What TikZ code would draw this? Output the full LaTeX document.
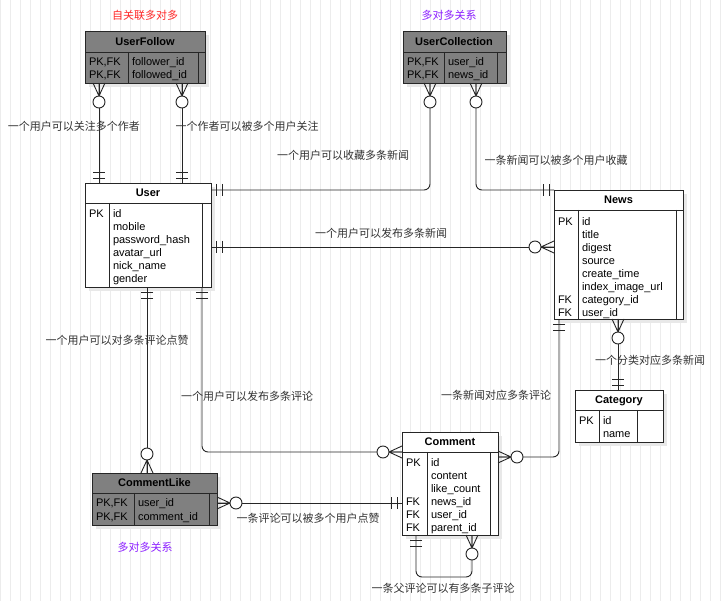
\documentclass[tikz,border=0pt]{standalone}
\usepackage{fontspec}
\setmainfont{Liberation Sans}
\newfontfamily\cjk{Noto Sans CJK SC}
\definecolor{tgray}{RGB}{128,128,128}
\definecolor{lred}{RGB}{255,40,40}
\definecolor{lpurple}{RGB}{140,30,255}
\definecolor{gridc}{RGB}{236,236,236}
\definecolor{shadowc}{RGB}{232,232,232}
\begin{document}
\begin{tikzpicture}[x=1pt,y=-1pt,
  every node/.style={inner sep=0pt, outer sep=0pt, font=\fontsize{11}{13}\selectfont},
  cline/.style={draw=black!85, line width=0.9pt},
  conn/.style={cline, rounded corners=6pt},
  tbox/.style={cline, anchor=north west, inner sep=0pt},
  ttl/.style={anchor=base, font=\fontsize{11}{13}\selectfont\bfseries},
  fld/.style={anchor=base west},
  lbl/.style={font=\cjk\fontsize{11}{13}\selectfont, text=black!80},
  manyopt/.pic={\draw[cline] (0,0) -- (13,0) (13,0) -- (0,-6) (13,0) -- (0,6);
                \draw[cline, fill=white] (19,0) circle (6pt);},
  onebar/.pic={\draw[cline] (5,-6) -- (5,6) (11,-6) -- (11,6);}
]
\useasboundingbox (0,0) rectangle (726,601);
\fill[white] (0,0) rectangle (726,601);
\draw[gridc, line width=0.5pt, step=10] (0,0) grid (726,601);

% shadows
\fill[shadowc] (89,35) rectangle (209,87);
\fill[shadowc] (407,35) rectangle (510,87);
\fill[shadowc] (89,187) rectangle (215,291);
\fill[shadowc] (558,194) rectangle (687,323);
\fill[shadowc] (579,394) rectangle (667,446);
\fill[shadowc] (406,436) rectangle (502,539);
\fill[shadowc] (96,477) rectangle (221,529);

% connector end points
\coordinate (uf1) at (99,83);
\coordinate (uf2) at (182,83);
\coordinate (u1) at (99,183);
\coordinate (u2) at (182,183);
\coordinate (u3) at (211,190);
\coordinate (u4) at (211,247);
\coordinate (u5) at (147,287);
\coordinate (u6) at (202,287);
\coordinate (uc1) at (430,83);
\coordinate (uc2) at (476,83);
\coordinate (n1) at (554,190);
\coordinate (n2) at (554,247);
\coordinate (n3) at (559,319);
\coordinate (n4) at (618,319);
\coordinate (c1) at (618,390);
\coordinate (cm1) at (402,452);
\coordinate (cm2) at (402,503);
\coordinate (cm3) at (498,457);
\coordinate (cm4) at (416,535);
\coordinate (cm5) at (472,535);
\coordinate (cl1) at (147,473);
\coordinate (cl2) at (217,503);

% connectors
\draw[conn] (uf1) -- (u1);
\draw[conn] (uf2) -- (u2);
\draw[conn] (u3) -| (uc1);
\draw[conn] (uc2) |- (n1);
\draw[conn] (u4) -- (n2);
\draw[conn] (u5) -- (cl1);
\draw[conn] (u6) |- (cm1);
\draw[conn] (cl2) -- (cm2);
\draw[conn] (n3) |- (cm3);
\draw[conn] (n4) -- (c1);
\draw[conn] (cm4) -- ++(0,42) -| (cm5);

% UserFollow
\node[tbox, fill=tgray, minimum width=120pt, minimum height=52pt] (uf) at (85,31) {};
\draw[cline] (85,52) -- (205,52) (128,52) -- (128,83) (198,52) -- (198,83);
\node[ttl] (uft) at (145,46) {UserFollow};
\node[fld] (ufk1) at (89,66) {PK,FK};
\node[fld] (ufk2) at (89,79) {PK,FK};
\node[fld] (uff1) at (132,66) {follower\_id};
\node[fld] (uff2) at (132,79) {followed\_id};

% UserCollection
\node[tbox, fill=tgray, minimum width=103pt, minimum height=52pt] (uc) at (403,31) {};
\draw[cline] (403,52) -- (506,52) (444,52) -- (444,83) (497,52) -- (497,83);
\node[ttl] (uct) at (454,46) {UserCollection};
\node[fld] (uck1) at (407,66) {PK,FK};
\node[fld] (uck2) at (407,79) {PK,FK};
\node[fld] (ucf1) at (448,66) {user\_id};
\node[fld] (ucf2) at (448,79) {news\_id};

% User
\node[tbox, fill=white, minimum width=126pt, minimum height=104pt] (user) at (85,183) {};
\draw[cline] (85,203) -- (211,203) (109,203) -- (109,287) (202,203) -- (202,287);
\node[ttl] (usert) at (148,197) {User};
\node[fld] (userk) at (89,218) {PK};
\foreach \t [count=\i from 0] in {id,mobile,password\_hash,avatar\_url,nick\_name,gender}
  \node[fld] (userf\i) at (113,218+13*\i) {\t};

% News
\node[tbox, fill=white, minimum width=129pt, minimum height=129pt] (news) at (554,190) {};
\draw[cline] (554,210) -- (683,210) (578,210) -- (578,319) (676,210) -- (676,319);
\node[ttl] (newst) at (618.5,204) {News};
\node[fld] (newsk1) at (558,226) {PK};
\node[fld] (newsk2) at (558,226+12.9*6) {FK};
\node[fld] (newsk3) at (558,226+12.9*7) {FK};
\foreach \t [count=\i from 0] in {id,title,digest,source,create\_time,index\_image\_url,category\_id,user\_id}
  \node[fld] (newsf\i) at (582,226+12.9*\i) {\t};

% Category
\node[tbox, fill=white, minimum width=88pt, minimum height=52pt] (cat) at (575,390) {};
\draw[cline] (575,410) -- (663,410) (599,410) -- (599,442) (637,410) -- (637,442);
\node[ttl] (catt) at (619,404) {Category};
\node[fld] (catk) at (579,425) {PK};
\node[fld] (catf1) at (603,425) {id};
\node[fld] (catf2) at (603,438) {name};

% Comment
\node[tbox, fill=white, minimum width=96pt, minimum height=103pt] (cm) at (402,432) {};
\draw[cline] (402,452) -- (498,452) (427,452) -- (427,535) (490,452) -- (490,535);
\node[ttl] (cmt) at (450,446) {Comment};
\node[fld] (cmk1) at (406,467) {PK};
\foreach \i in {3,4,5}
  \node[fld] (cmk\i) at (406,467+12.8*\i) {FK};
\foreach \t [count=\i from 0] in {id,content,like\_count,news\_id,user\_id,parent\_id}
  \node[fld] (cmf\i) at (431,467+12.8*\i) {\t};

% CommentLike
\node[tbox, fill=tgray, minimum width=125pt, minimum height=52pt] (cl) at (92,473) {};
\draw[cline] (92,493) -- (217,493) (134,493) -- (134,525) (209,493) -- (209,525);
\node[ttl] (clt) at (154.5,487) {CommentLike};
\node[fld] (clk1) at (96,507) {PK,FK};
\node[fld] (clk2) at (96,521) {PK,FK};
\node[fld] (clf1) at (138,507) {user\_id};
\node[fld] (clf2) at (138,521) {comment\_id};

% end markers
\path (uf1) pic[rotate=-90] {manyopt};
\path (uf2) pic[rotate=-90] {manyopt};
\path (u1) pic[rotate=90] {onebar};
\path (u2) pic[rotate=90] {onebar};
\path (u3) pic {onebar};
\path (uc1) pic[rotate=-90] {manyopt};
\path (uc2) pic[rotate=-90] {manyopt};
\path (n1) pic[rotate=180] {onebar};
\path (u4) pic {onebar};
\path (n2) pic[rotate=180] {manyopt};
\path (u5) pic[rotate=-90] {onebar};
\path (cl1) pic[rotate=90] {manyopt};
\path (u6) pic[rotate=-90] {onebar};
\path (cm1) pic[rotate=180] {manyopt};
\path (cl2) pic {manyopt};
\path (cm2) pic[rotate=180] {onebar};
\path (n3) pic[rotate=-90] {onebar};
\path (cm3) pic {manyopt};
\path (n4) pic[rotate=-90] {manyopt};
\path (c1) pic[rotate=90] {onebar};
\path (cm4) pic[rotate=-90] {onebar};
\path (cm5) pic[rotate=-90] {manyopt};

% labels
\node[lbl, text=lred] (t1) at (145,15) {自关联多对多};
\node[lbl, text=lpurple] (t2) at (449,15) {多对多关系};
\node[lbl, text=lpurple] (t3) at (145,547) {多对多关系};
\node[lbl] (l1) at (74,126) {一个用户可以关注多个作者};
\node[lbl] (l2) at (247,126) {一个作者可以被多个用户关注};
\node[lbl] (l3) at (343,155) {一个用户可以收藏多条新闻};
\node[lbl] (l4) at (556,160) {一条新闻可以被多个用户收藏};
\node[lbl] (l5) at (381,233) {一个用户可以发布多条新闻};
\node[lbl] (l6) at (117,340) {一个用户可以对多条评论点赞};
\node[lbl] (l7) at (247,396) {一个用户可以发布多条评论};
\node[lbl] (l8) at (496,395) {一条新闻对应多条评论};
\node[lbl] (l9) at (650,360) {一个分类对应多条新闻};
\node[lbl] (l10) at (308,518) {一条评论可以被多个用户点赞};
\node[lbl] (l11) at (443,588) {一条父评论可以有多条子评论};
\end{tikzpicture}
\end{document}
